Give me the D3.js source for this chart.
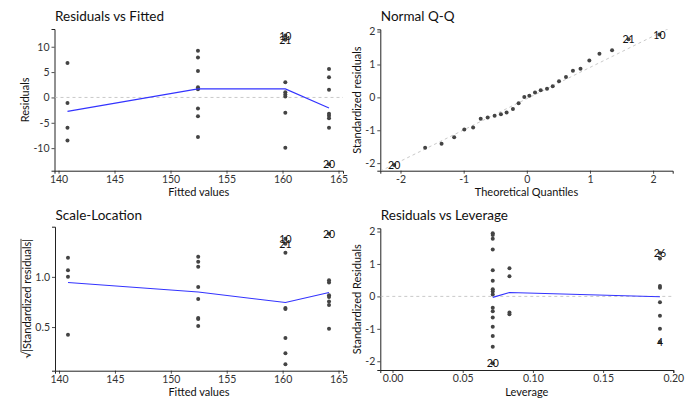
<!DOCTYPE html>
<html>
<head>
<meta charset="utf-8">
<script src="https://cdn.jsdelivr.net/npm/d3@7"></script>
<style>
  html, body { margin: 0; padding: 0; background: #fff; }
  svg { display: block; font-family: Lato, "Open Sans", sans-serif; }
</style>
</head>
<body>
<svg id="chart" width="685" height="401"></svg>
<script>
// ---- Residuals vs Fitted ----
const fitted = [
  140.8, 140.8, 140.8, 140.8,
  152.45, 152.45, 152.45, 152.45, 152.45, 152.45, 152.45, 152.45,
  160.25, 160.25, 160.25, 160.25, 160.25, 160.25, 160.25, 160.25,
  164.15, 164.15, 164.15, 164.15, 164.15, 164.15, 164.15, 164.15
];
const residuals = [
  6.8, -1.1, -6.0, -8.5,
  9.2, 7.9, 5.2, 2.0, 1.6, -2.2, -3.7, -7.8,
  12.2, 11.4, 3.0, 1.0, 0.6, 0.2, -3.0, -9.9,
  5.6, 4.0, 1.5, -3.2, -3.6, -4.1, -6.0, -13.2
];
const pointIds = [
  "", "", "", "",
  "", "", "", "", "", "", "", "",
  "10", "21", "", "", "", "", "", "",
  "", "", "", "", "", "", "", "20"
];
const smoothFittedX = [140.8, 152.45, 160.25, 164.15];
const smoothResidY = [-2.74, 1.69, 1.69, -2.08];

// ---- Scale-Location ----
const sqrtAbsStdResid = [
  1.067, 0.424, 1.0, 1.19,
  1.20, 1.15, 0.90, 0.58, 0.51, 0.59, 0.78, 1.10,
  1.38, 1.33, 0.69, 0.39, 0.24, 0.13, 0.68, 1.24,
  0.944, 0.80, 0.484, 0.72, 0.754, 0.817, 0.967, 1.43
];
const smoothScaleY = [0.944, 0.85, 0.744, 0.844];

// ---- Normal Q-Q ----
const theoreticalQ = [
  -2.10, -1.61, -1.35, -1.15, -0.99, -0.85, -0.73, -0.62, -0.51, -0.41,
  -0.32, -0.22, -0.13, -0.04, 0.04, 0.13, 0.22, 0.32, 0.41, 0.51,
  0.62, 0.73, 0.85, 0.99, 1.15, 1.35, 1.61, 2.10
];
const sampleQ = [
  -2.06, -1.53, -1.41, -1.21, -0.98, -0.92, -0.65, -0.61, -0.56, -0.51,
  -0.46, -0.35, -0.18, 0.01, 0.05, 0.15, 0.22, 0.26, 0.34, 0.49,
  0.62, 0.81, 0.87, 1.12, 1.33, 1.43, 1.77, 1.91
];
const qqIds = ["20", "", "", "", "", "", "", "", "", "", "", "", "", "",
  "", "", "", "", "", "", "", "", "", "", "", "", "21", "10"];
const qqLineCoef = [-0.04, 0.95]; // intercept, slope

// ---- Residuals vs Leverage ----
const leverage = [
  0.0714, 0.0714, 0.0714, 0.0714, 0.0714, 0.0714, 0.0714, 0.0714,
  0.0714, 0.0714, 0.0714, 0.0714, 0.0714, 0.0714, 0.0714, 0.0714,
  0.0833, 0.0833, 0.0833, 0.0833,
  0.1905, 0.1905, 0.1905, 0.1905, 0.1905, 0.1905, 0.1905, 0.1905
];
const stdResid = [
  1.95, 1.89, 1.78, 1.45, 0.81, 0.48, 0.22, 0.15,
  0.06, -0.35, -0.46, -0.65, -0.94, -1.22, -1.55, -2.06,
  0.87, 0.62, -0.50, -0.55,
  1.34, 1.17, 0.32, 0.27, -0.18, -0.60, -1.00, -1.41
];
const levIds = [
  "", "", "", "", "", "", "", "", "", "", "", "", "", "", "", "20",
  "", "", "", "",
  "26", "", "", "", "", "", "", "4"
];
const smoothLevX = [0.0714, 0.0833, 0.1905];
const smoothLevY = [-0.03, 0.12, -0.01];

// tick values
const fittedTicks = [140, 145, 150, 155, 160, 165];
const residTicks = [-10, -5, 0, 5, 10];
const qqXTicks = [-2, -1, 0, 1, 2];
const stdTicks = [-2, -1, 0, 1, 2];
const scaleTicks = [0.5, 1.0];
const levTicks = [0, 0.05, 0.10, 0.15, 0.20];

const svg = d3.select("#chart");
const DOT = "#444444", SMOOTH = "#3333ff", REF = "#bbbbbb";
const TICK_COL = "#333333", AXIS_COL = "#222222";

function panel(cfg) {
  const g = svg.append("g");
  const x = d3.scaleLinear().domain(cfg.xDomain).range([cfg.left, cfg.right]);
  const y = d3.scaleLinear().domain(cfg.yDomain).range([cfg.bottom, cfg.top]);
  const clipId = "clip" + cfg.id;
  svg.append("clipPath").attr("id", clipId).append("rect")
    .attr("x", cfg.left).attr("y", cfg.top)
    .attr("width", cfg.right - cfg.left).attr("height", cfg.bottom - cfg.top);

  const xa = g.append("g").attr("transform", `translate(0,${cfg.bottom})`)
    .call(d3.axisBottom(x).tickValues(cfg.xTicks).tickFormat(cfg.xFmt)
      .tickSizeOuter(0).tickSize(3).tickPadding(2));
  const ya = g.append("g").attr("transform", `translate(${cfg.left},0)`)
    .call(d3.axisLeft(y).tickValues(cfg.yTicks).tickFormat(cfg.yFmt)
      .tickSizeOuter(0).tickSize(3).tickPadding(2));
  [xa, ya].forEach(a => {
    a.select(".domain").attr("stroke", AXIS_COL).attr("stroke-width", 1);
    a.selectAll(".tick line").attr("stroke", AXIS_COL).attr("stroke-width", 0.8);
    a.selectAll(".tick text").attr("fill", TICK_COL)
      .style("font-size", "10.5px").style("font-family", "Lato, sans-serif");
  });

  const plot = g.append("g").attr("clip-path", `url(#${clipId})`);

  // title
  g.append("text").attr("x", cfg.left + 0.5).attr("y", cfg.titleY)
    .attr("fill", "#111").style("font-size", "13.5px").text(cfg.title);
  // x axis title
  g.append("text").attr("x", (cfg.left + cfg.right) / 2).attr("y", cfg.bottom + 25.5)
    .attr("text-anchor", "middle").attr("fill", "#111").style("font-size", "11px")
    .text(cfg.xTitle);
  // y axis title
  const yt = g.append("text")
    .attr("transform", `translate(${cfg.yTitleX},${(cfg.top + cfg.bottom) / 2}) rotate(-90)`)
    .attr("text-anchor", "middle").attr("fill", "#111").style("font-size", "11px");
  if (cfg.sqrtTitle) {
    const t1 = yt.append("tspan").text("\u221A");
    const t2 = yt.append("tspan").text(cfg.yTitle);
    const w1 = t1.node().getComputedTextLength();
    const w2 = t2.node().getComputedTextLength();
    const total = w1 + w2;
    g.append("line")
      .attr("transform", `translate(${cfg.yTitleX},${(cfg.top + cfg.bottom) / 2}) rotate(-90)`)
      .attr("x1", -total / 2 + w1 - 0.5).attr("x2", total / 2)
      .attr("y1", -9.5).attr("y2", -9.5)
      .attr("stroke", "#111").attr("stroke-width", 0.8);
  } else {
    yt.text(cfg.yTitle);
  }
  return { g, plot, x, y };
}

const intFmt = d => String(d);

// Panel 1: Residuals vs Fitted
{
  const p = panel({
    id: 1, left: 54.5, right: 343, top: 29, bottom: 170.7, titleY: 20.5,
    xDomain: [139.64, 165.4], yDomain: [-14.45, 13.5],
    xTicks: fittedTicks, yTicks: residTicks, xFmt: intFmt, yFmt: intFmt,
    title: "Residuals vs Fitted", xTitle: "Fitted values", yTitle: "Residuals", yTitleX: 29
  });
  p.plot.append("line").attr("x1", p.x.range()[0]).attr("x2", p.x.range()[1])
    .attr("y1", p.y(0)).attr("y2", p.y(0))
    .attr("stroke", REF).attr("stroke-width", 0.8).attr("stroke-dasharray", "3,3");
  p.plot.selectAll("circle").data(fitted).join("circle")
    .attr("cx", d => p.x(d)).attr("cy", (d, i) => p.y(residuals[i]))
    .attr("r", 2).attr("fill", DOT);
  p.plot.append("path").datum(smoothFittedX)
    .attr("d", d3.line().x(d => p.x(d)).y((d, i) => p.y(smoothResidY[i])))
    .attr("fill", "none").attr("stroke", SMOOTH).attr("stroke-width", 1.1);
  p.g.selectAll(".lbl").data(fitted.map((f, i) => i).filter(i => pointIds[i])).join("text")
    .attr("x", i => p.x(fitted[i])).attr("y", i => p.y(residuals[i]))
    .attr("text-anchor", "middle").attr("dominant-baseline", "central")
    .attr("fill", "#111").style("font-size", "10.5px").text(i => pointIds[i]);
}

// Panel 2: Normal Q-Q
{
  const p = panel({
    id: 2, left: 380.3, right: 672.7, top: 29.3, bottom: 170.7, titleY: 20.5,
    xDomain: [-2.32, 2.31], yDomain: [-2.23, 2.07],
    xTicks: qqXTicks, yTicks: stdTicks, xFmt: intFmt, yFmt: intFmt,
    title: "Normal Q-Q", xTitle: "Theoretical Quantiles", yTitle: "Standardized residuals", yTitleX: 360.5
  });
  const xd = p.x.domain();
  p.plot.append("line")
    .attr("x1", p.x(xd[0])).attr("y1", p.y(qqLineCoef[0] + qqLineCoef[1] * xd[0]))
    .attr("x2", p.x(xd[1])).attr("y2", p.y(qqLineCoef[0] + qqLineCoef[1] * xd[1]))
    .attr("stroke", REF).attr("stroke-width", 0.8).attr("stroke-dasharray", "3,3");
  p.plot.selectAll("circle").data(theoreticalQ).join("circle")
    .attr("cx", d => p.x(d)).attr("cy", (d, i) => p.y(sampleQ[i]))
    .attr("r", 2).attr("fill", DOT);
  p.g.selectAll(".lbl").data(theoreticalQ.map((q, i) => i).filter(i => qqIds[i])).join("text")
    .attr("x", i => p.x(theoreticalQ[i])).attr("y", i => p.y(sampleQ[i]))
    .attr("text-anchor", "middle").attr("dominant-baseline", "central")
    .attr("fill", "#111").style("font-size", "10.5px").text(i => qqIds[i]);
}

// Panel 3: Scale-Location
{
  const p = panel({
    id: 3, left: 55, right: 343, top: 226.7, bottom: 370.7, titleY: 220,
    xDomain: [139.64, 165.4], yDomain: [0.065, 1.5],
    xTicks: fittedTicks, yTicks: scaleTicks, xFmt: intFmt, yFmt: d3.format(".1f"),
    title: "Scale-Location", xTitle: "Fitted values", yTitle: "|Standardized residuals|",
    yTitleX: 30.5, sqrtTitle: true
  });
  p.plot.selectAll("circle").data(fitted).join("circle")
    .attr("cx", d => p.x(d)).attr("cy", (d, i) => p.y(sqrtAbsStdResid[i]))
    .attr("r", 2).attr("fill", DOT);
  p.plot.append("path").datum(smoothFittedX)
    .attr("d", d3.line().x(d => p.x(d)).y((d, i) => p.y(smoothScaleY[i])))
    .attr("fill", "none").attr("stroke", SMOOTH).attr("stroke-width", 1.1);
  p.g.selectAll(".lbl").data(fitted.map((f, i) => i).filter(i => pointIds[i])).join("text")
    .attr("x", i => p.x(fitted[i])).attr("y", i => p.y(sqrtAbsStdResid[i]))
    .attr("text-anchor", "middle").attr("dominant-baseline", "central")
    .attr("fill", "#111").style("font-size", "10.5px").text(i => pointIds[i]);
}

// Panel 4: Residuals vs Leverage
{
  const p = panel({
    id: 4, left: 380.3, right: 673.3, top: 228.3, bottom: 370, titleY: 220,
    xDomain: [-0.0087, 0.2], yDomain: [-2.27, 2.1],
    xTicks: levTicks, yTicks: stdTicks, xFmt: d3.format(".2f"), yFmt: intFmt,
    title: "Residuals vs Leverage", xTitle: "Leverage", yTitle: "Standardized Residuals", yTitleX: 360.5
  });
  p.plot.append("line").attr("x1", p.x.range()[0]).attr("x2", p.x.range()[1])
    .attr("y1", p.y(0)).attr("y2", p.y(0))
    .attr("stroke", REF).attr("stroke-width", 0.8).attr("stroke-dasharray", "3,3");
  p.plot.selectAll("circle").data(leverage).join("circle")
    .attr("cx", d => p.x(d)).attr("cy", (d, i) => p.y(stdResid[i]))
    .attr("r", 2).attr("fill", DOT);
  p.plot.append("path").datum(smoothLevX)
    .attr("d", d3.line().x(d => p.x(d)).y((d, i) => p.y(smoothLevY[i])))
    .attr("fill", "none").attr("stroke", SMOOTH).attr("stroke-width", 1.1);
  p.g.selectAll(".lbl").data(leverage.map((l, i) => i).filter(i => levIds[i])).join("text")
    .attr("x", i => p.x(leverage[i])).attr("y", i => p.y(stdResid[i]))
    .attr("text-anchor", "middle").attr("dominant-baseline", "central")
    .attr("fill", "#111").style("font-size", "10.5px").text(i => levIds[i]);
}
</script>
</body>
</html>
